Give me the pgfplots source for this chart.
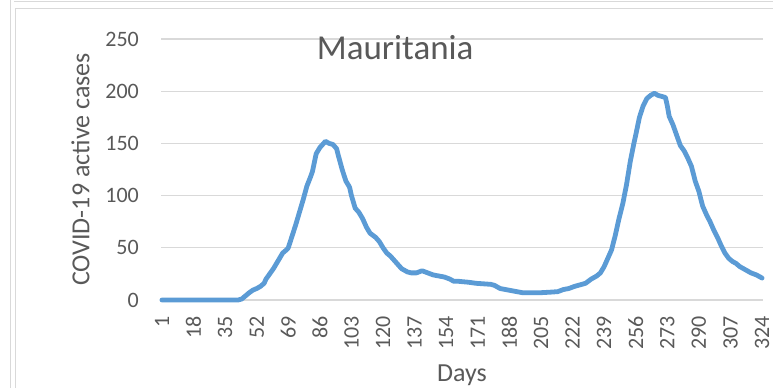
\documentclass[border=0pt]{standalone}
\usepackage{fontspec}
\setmainfont{Carlito}
\usepackage{pgfplots}
\pgfplotsset{compat=1.18}
\definecolor{linec}{HTML}{5B9BD5}
\definecolor{gridc}{HTML}{D9D9D9}
\definecolor{txtc}{HTML}{595959}
\begin{document}
\begin{tikzpicture}[x=1pt,y=1pt]
\useasboundingbox (0,0) rectangle (773,388);
\draw[gridc,line width=1pt] (14,386) -- (773,386);
\draw[gridc,line width=1pt] (10,381) -- (10,388) (10,381) -- (10,0);
\draw[gridc,line width=1pt] (15,379) -- (773,379);
\draw[gridc,line width=1pt] (15,379) -- (15,0);
\begin{axis}[
  at={(161pt,88pt)}, anchor=south west,
  scale only axis, width=602pt, height=261pt,
  xmin=0.5, xmax=324.5, ymin=0, ymax=250,
  xtick={1,18,35,52,69,86,103,120,137,154,171,188,205,222,239,256,273,290,307,324},
  ytick={0,50,100,150,200,250},
  ymajorgrids, grid style={gridc,line width=1.3pt},
  axis line style={draw=none},
  major tick length=0pt,
  /pgf/number format/assume math mode=true,
  tick label style={font=\fontsize{22}{26}\selectfont, text=txtc},
  yticklabel style={anchor=east, inner sep=0pt, xshift=-22pt},
  xticklabel style={rotate=90, anchor=east, inner sep=0pt, xshift=-16pt},
  xlabel={Days}, ylabel={COVID-19 active cases},
  xlabel style={at={(axis description cs:0.5,-0.289)}, anchor=center, font=\fontsize{26}{30}\selectfont, text=txtc},
  ylabel style={at={(axis description cs:-0.1337,0.5)}, anchor=center, font=\fontsize{26}{30}\selectfont, text=txtc},
  title={Mauritania},
  title style={at={(axis description cs:0.389,0.943)}, anchor=center, font=\fontsize{35}{40}\selectfont, text=txtc},
  clip=false,
]
\addplot[linec, line width=4.8pt, line join=round, line cap=round] coordinates {
(1,0) (42,0) (44,1) (46,4) (48,7) (50,9.5) (52,11) (54,13) (56,16) (57,20)
(59,25) (61,30) (63,36) (65,42) (66,45) (68,48) (69,50) (71,61) (73,72) (75,84)
(77,96) (79,109) (81,118) (82,123) (84,140) (86,146) (88,150) (89,152) (91,150) (93,149)
(95,145) (96,138) (98,125) (100,114) (102,108) (103,100) (105,88) (107,84) (109,78) (111,70)
(113,64) (116,60) (118,56) (120,50) (122,45) (124,42) (126,38) (128,34) (130,30) (133,27)
(135,26) (138,26) (141,28) (144,26) (147,24) (150,23) (153,22) (156,20) (158,18) (160,18)
(163,17.5) (166,17) (170,16) (174,15.5) (178,15) (180,14) (183,11) (186,10) (189,9) (192,8)
(195,7) (200,7) (205,7) (210,7.5) (214,8) (217,10) (220,11) (223,13) (226,14.5) (229,16)
(232,20) (235,23) (237,26) (239,32) (241,40) (243,48) (245,62) (247,78) (249,92) (251,110)
(253,132) (255,150) (256,158) (258,175) (260,186) (262,193) (264,196) (266,198) (268,196) (270,195)
(272,194) (273,186) (274,176) (276,168) (278,158) (280,148) (282,143) (284,136) (286,128) (288,114)
(290,104) (292,90) (294,82) (296,75) (298,67) (300,60) (302,52) (304,45) (306,40) (308,37)
(310,35) (312,32) (315,29) (318,26) (321,24) (324,21)
};
\end{axis}
\end{tikzpicture}
\end{document}
